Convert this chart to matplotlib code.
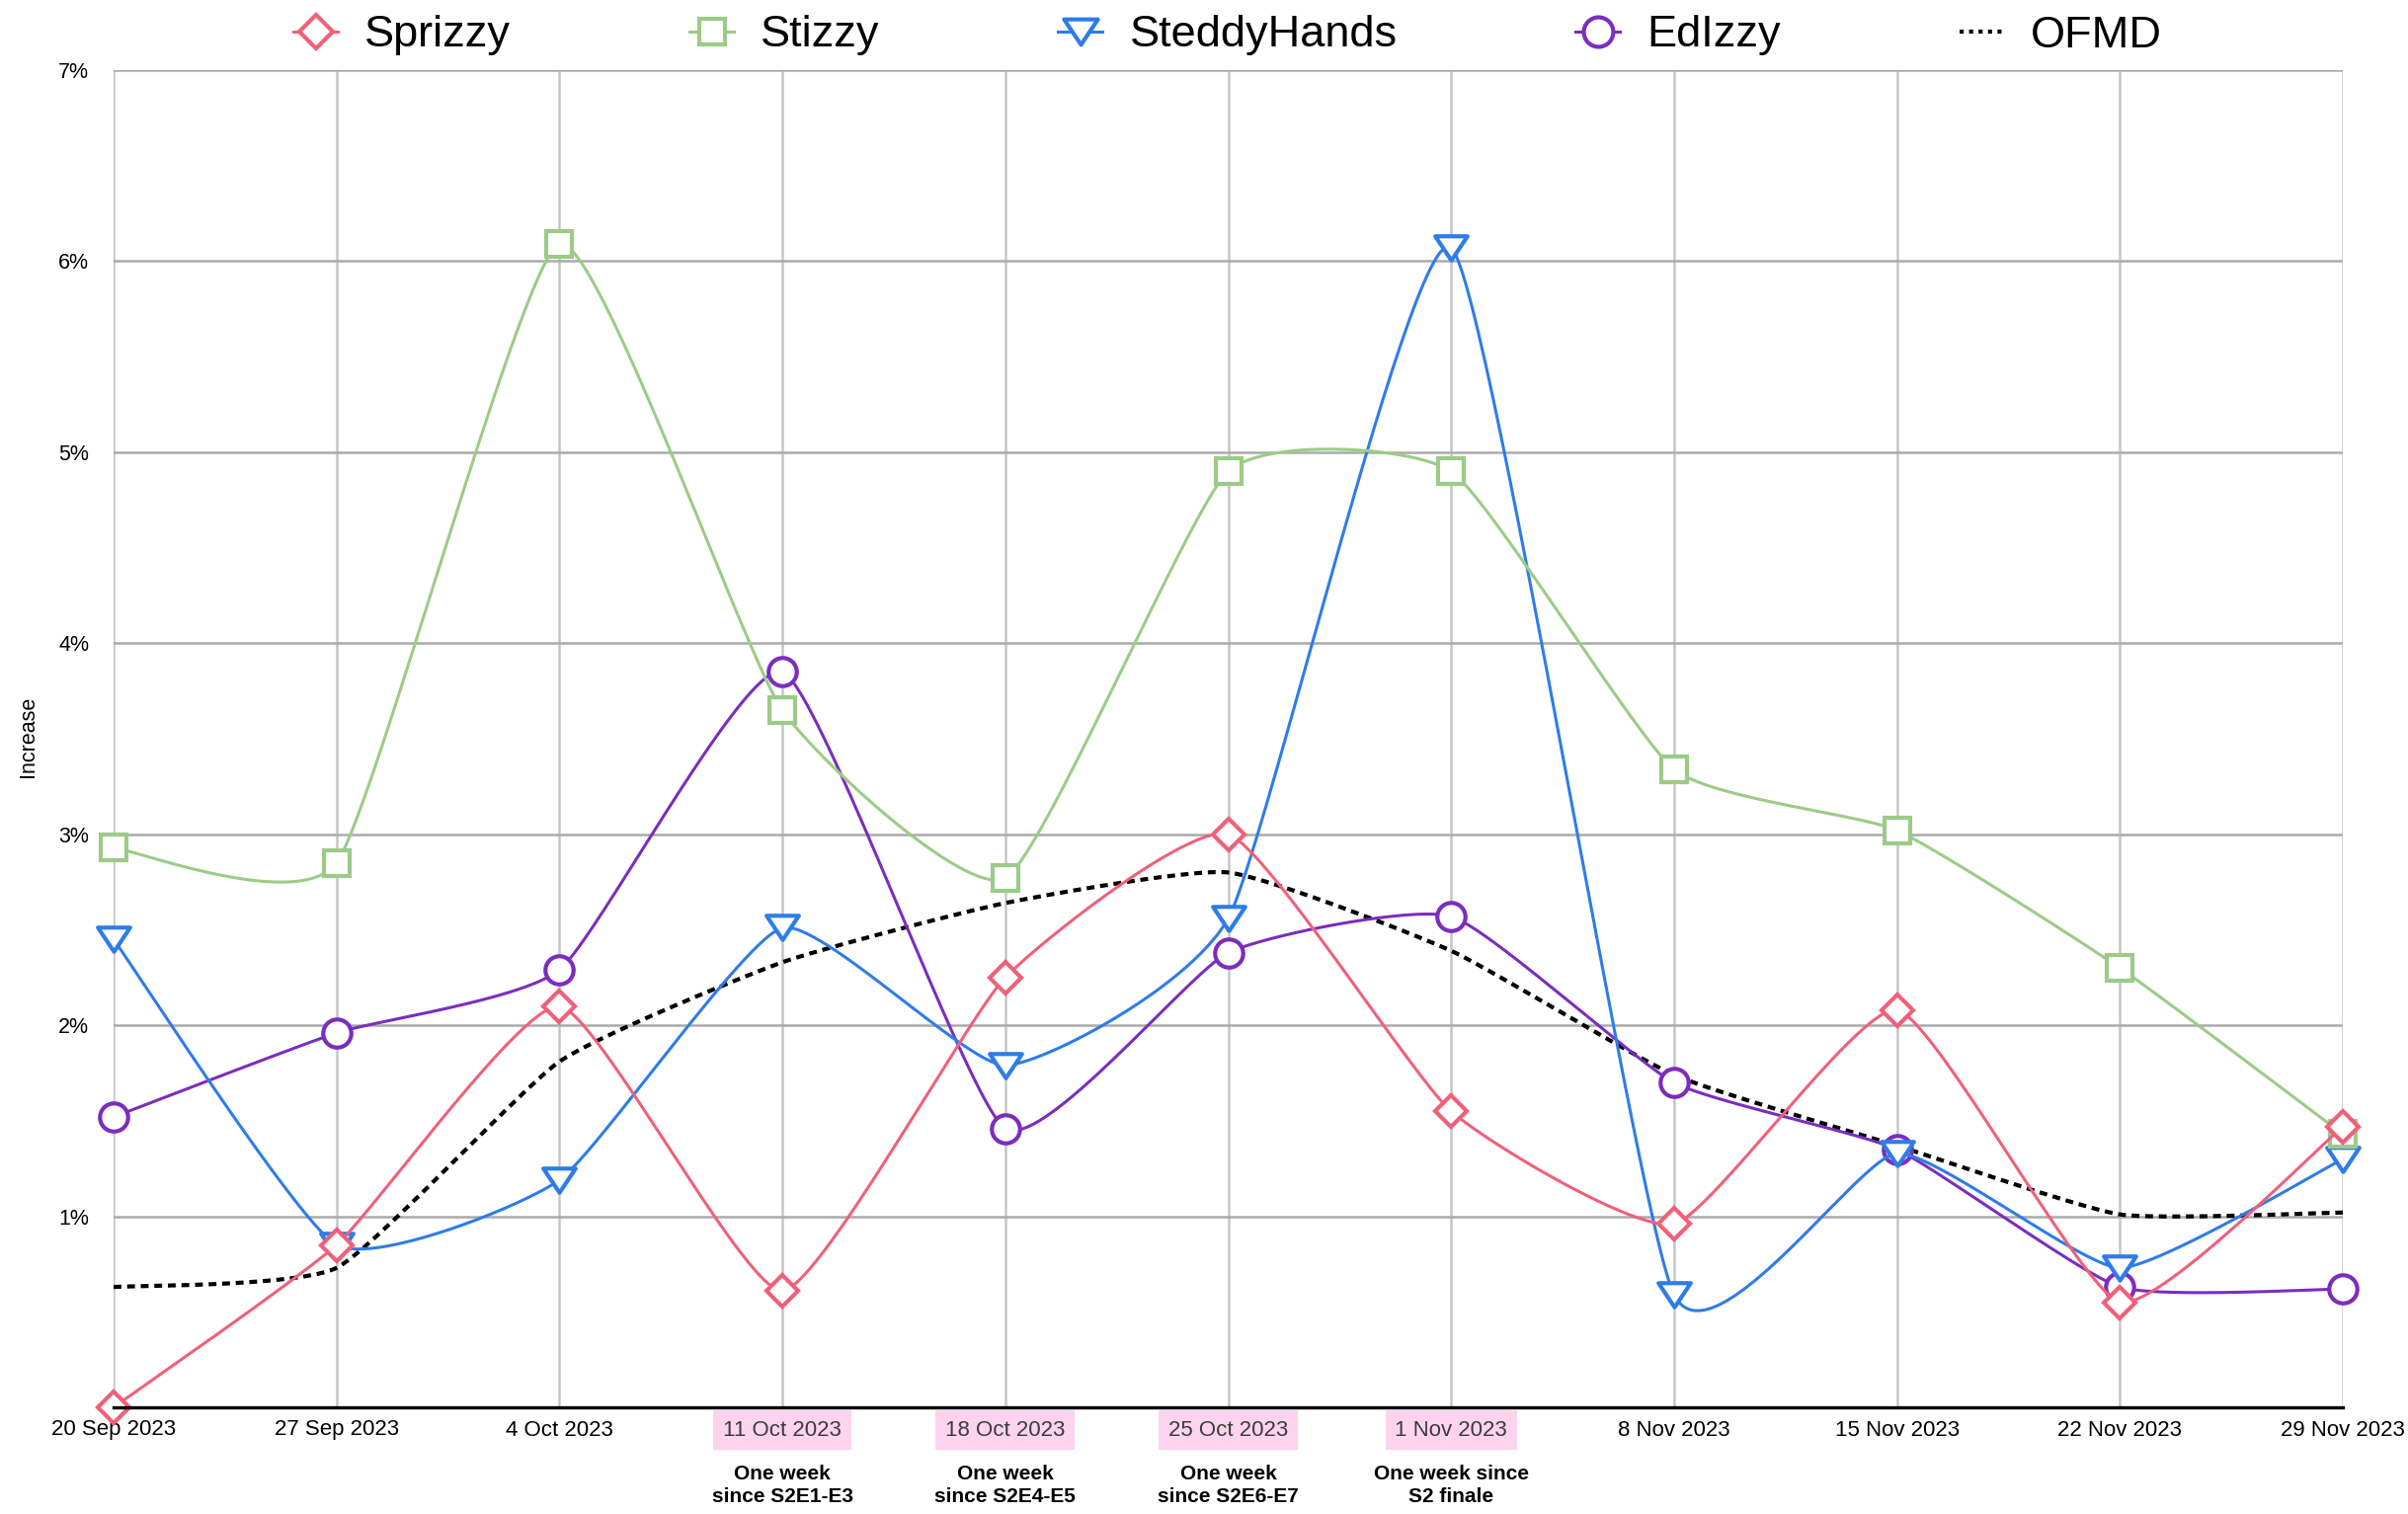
import numpy as np
import matplotlib
matplotlib.use("Agg")
import matplotlib.pyplot as plt
from matplotlib.path import Path
from matplotlib.lines import Line2D
from matplotlib.transforms import blended_transform_factory

plt.rcParams['font.family'] = ['Liberation Sans', 'DejaVu Sans']

dates = ["20 Sep 2023", "27 Sep 2023", "4 Oct 2023", "11 Oct 2023", "18 Oct 2023",
         "25 Oct 2023", "1 Nov 2023", "8 Nov 2023", "15 Nov 2023", "22 Nov 2023", "29 Nov 2023"]
sprizzy = [0.00, 0.85, 2.10, 0.61, 2.25, 3.00, 1.55, 0.96, 2.08, 0.55, 1.47]
stizzy = [2.93, 2.85, 6.09, 3.65, 2.77, 4.90, 4.90, 3.34, 3.02, 2.30, 1.43]
steddyhands = [2.45, 0.85, 1.19, 2.51, 1.79, 2.56, 6.07, 0.59, 1.33, 0.73, 1.30]
edizzy = [1.52, 1.96, 2.29, 3.85, 1.46, 2.38, 2.57, 1.70, 1.35, 0.63, 0.62]
ofmd = [0.63, 0.73, 1.81, 2.33, 2.64, 2.80, 2.39, 1.74, 1.37, 1.01, 1.02]
highlighted = ["11 Oct 2023", "18 Oct 2023", "25 Oct 2023", "1 Nov 2023"]
notes = ["One week\nsince S2E1-E3", "One week\nsince S2E4-E5",
         "One week\nsince S2E6-E7", "One week since\nS2 finale"]
yticks = [1, 2, 3, 4, 5, 6, 7]


def smooth(y, n=60, k=12.0):
    y = np.asarray(y, float)
    x = np.arange(len(y), dtype=float)
    m = len(y)
    xs, ys = [], []
    t = np.linspace(0, 1, n)
    for i in range(m - 1):
        im1 = max(i - 1, 0)
        ip2 = min(i + 2, m - 1)
        c1x = x[i] + (x[i + 1] - x[im1]) / k
        c1y = y[i] + (y[i + 1] - y[im1]) / k
        c2x = x[i + 1] - (x[ip2] - x[i]) / k
        c2y = y[i + 1] - (y[ip2] - y[i]) / k
        b0 = (1 - t) ** 3
        b1 = 3 * (1 - t) ** 2 * t
        b2 = 3 * (1 - t) * t ** 2
        b3 = t ** 3
        xs.append(b0 * x[i] + b1 * c1x + b2 * c2x + b3 * x[i + 1])
        ys.append(b0 * y[i] + b1 * c1y + b2 * c2y + b3 * y[i + 1])
    return np.concatenate(xs), np.concatenate(ys)


tri = Path([(-1, 0.75), (1, 0.75), (0, -0.75), (-1, 0.75)],
           [Path.MOVETO, Path.LINETO, Path.LINETO, Path.CLOSEPOLY])

fig = plt.figure(figsize=(24.38, 15.33), dpi=100)
ax = fig.add_axes([115 / 2438, 108 / 1533, (2372 - 115) / 2438, (1425 - 71) / 1533])

series = [
    ("Sprizzy", sprizzy, '#F0607A', 'D', 16.5, 6),
    ("Stizzy", stizzy, '#9DCB87', 's', 18.5, 5),
    ("SteddyHands", steddyhands, '#2E7CE8', tri, 23.5, 4),
    ("EdIzzy", edizzy, '#7B2DBE', 'o', 20.5, 3),
]

x = np.arange(len(dates))
handles = []
for name, vals, col, mk, ms, z in series:
    sx, sy = smooth(vals)
    ax.plot(sx, sy, color=col, lw=2.2, zorder=z, solid_capstyle='round')
    ax.plot(x, vals, ls='none', marker=mk, ms=ms, mfc='white', mec=col, mew=3.0,
            zorder=z + 0.5, clip_on=False)
    handles.append(Line2D([], [], color=col, lw=2.2, marker=mk, ms=ms * 1.05, mfc='white',
                          mec=col, mew=3.0))

ox, oy = smooth(ofmd)
ax.plot(ox, oy, color='black', lw=3.0, dashes=(1.9, 1.4), zorder=2.5)
handles.append(Line2D([], [], color='black', lw=3.0, dashes=(1.0, 1.3)))

ax.set_xlim(0, len(dates) - 1)
ax.set_ylim(0, 7)
ax.set_yticks(yticks)
ax.set_yticklabels([f"{v}%" for v in yticks], fontsize=15.5)
ax.set_xticks(x)
ax.set_xticklabels(dates, fontsize=16)
ax.tick_params(axis='y', length=0, pad=18)
ax.tick_params(axis='x', length=0, pad=9)

for lbl in ax.get_xticklabels():
    if lbl.get_text() in highlighted:
        lbl.set_color('#3c3c3c')
        lbl.set_bbox(dict(facecolor='#FDD3EE', edgecolor='none', pad=7))

ax.grid(axis='y', color='#ababab', lw=1.8, zorder=0)
ax.grid(axis='x', color='#c6c6c6', lw=1.8, zorder=0)
ax.set_axisbelow(True)
for s in ['top', 'right', 'left']:
    ax.spines[s].set_visible(False)
ax.spines['bottom'].set_color('black')
ax.spines['bottom'].set_linewidth(2.4)
ax.spines['bottom'].set_zorder(7)

tr = blended_transform_factory(ax.transData, ax.transAxes)
for d, note in zip(highlighted, notes):
    ax.text(dates.index(d), -0.0585, note, transform=tr, ha='center', va='center',
            fontsize=15, fontweight='bold', linespacing=1.3)

fig.text(28 / 2438, 1 - 746 / 1533, "Increase", rotation=90, ha='center', va='center',
         fontsize=15.5)

fig.legend(handles, ["Sprizzy", "Stizzy", "SteddyHands", "EdIzzy", "OFMD"],
           loc='center', bbox_to_anchor=(1243 / 2438, 1 - 36 / 1533), ncol=5,
           frameon=False, fontsize=32.5, columnspacing=4.0, handlelength=1.0,
           handletextpad=0.6)

fig.savefig("out.png", dpi=100)
